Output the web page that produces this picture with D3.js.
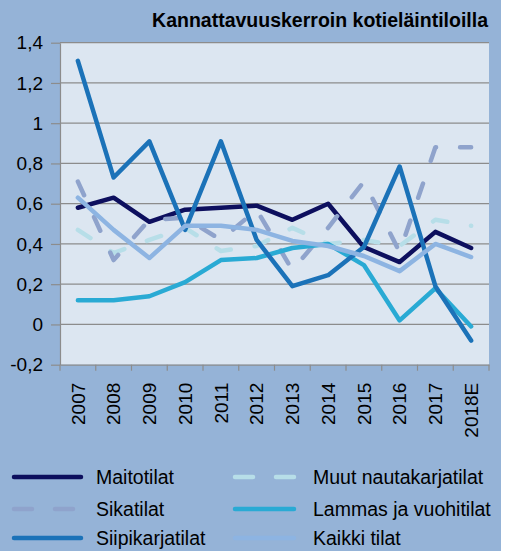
<!DOCTYPE html>
<html>
<head>
<meta charset="utf-8">
<script src="https://cdn.jsdelivr.net/npm/d3@7"></script>
<style>
  body { margin: 0; background: #ffffff; }
  svg { display: block; font-family: "Liberation Sans", Arial, sans-serif; }
</style>
</head>
<body>
<div id="chart"></div>
<script>
const width = 505;
const height = 551;
const margin = { top: 42.7, right: 16, bottom: 186.3, left: 60 };

// data
const years = ['2007', '2008', '2009', '2010', '2011', '2012', '2013', '2014', '2015', '2016', '2017', '2018E'];
const maitotilat = [0.58, 0.63, 0.51, 0.57, 0.58, 0.59, 0.52, 0.60, 0.385, 0.31, 0.46, 0.38];
const muutNautakarjatilat = [0.47, 0.355, 0.42, 0.48, 0.365, 0.39, 0.48, 0.40, 0.42, 0.39, 0.52, 0.49];
const sikatilat = [0.71, 0.32, 0.52, 0.53, 0.42, 0.57, 0.27, 0.48, 0.71, 0.36, 0.88, 0.88];
const lammasJaVuohitilat = [0.12, 0.12, 0.14, 0.21, 0.32, 0.33, 0.38, 0.40, 0.295, 0.02, 0.18, -0.01];
const siipikarjatilat = [1.31, 0.73, 0.91, 0.47, 0.91, 0.42, 0.19, 0.245, 0.385, 0.785, 0.19, -0.08];
const kaikkiTilat = [0.63, 0.47, 0.33, 0.49, 0.49, 0.47, 0.415, 0.39, 0.34, 0.265, 0.40, 0.335];
const yTicks = [-0.2, 0, 0.2, 0.4, 0.6, 0.8, 1, 1.2, 1.4];
const yTickLabels = ['-0,2', '0', '0,2', '0,4', '0,6', '0,8', '1', '1,2', '1,4'];

const series = [
  { name: 'Maitotilat', values: maitotilat, color: '#0d0f5e', dash: null },
  { name: 'Muut nautakarjatilat', values: muutNautakarjatilat, color: '#b7dee8', dash: '15,24' },
  { name: 'Sikatilat', values: sikatilat, color: '#8fa3cc', dash: '15,24' },
  { name: 'Lammas ja vuohitilat', values: lammasJaVuohitilat, color: '#29aad4', dash: null },
  { name: 'Siipikarjatilat', values: siipikarjatilat, color: '#1b72b8', dash: null },
  { name: 'Kaikki tilat', values: kaikkiTilat, color: '#8db4e2', dash: null }
];

const svg = d3.select('#chart')
  .append('svg')
  .attr('width', width)
  .attr('height', height);

// outer background
svg.append('rect')
  .attr('width', 501)
  .attr('height', height)
  .attr('fill', '#95b3d7');

const x = d3.scaleBand()
  .domain(years)
  .range([margin.left, width - margin.right])
  .padding(0);

const y = d3.scaleLinear()
  .domain([-0.2, 1.4])
  .range([height - margin.bottom, margin.top]);

// plot area
svg.append('rect')
  .attr('x', margin.left)
  .attr('y', y(1.4))
  .attr('width', x.range()[1] - margin.left)
  .attr('height', y(-0.2) - y(1.4))
  .attr('fill', '#dce6f1');

// gridlines
svg.append('g')
  .selectAll('line')
  .data(yTicks.filter(d => d > -0.2))
  .join('line')
    .attr('x1', margin.left)
    .attr('x2', x.range()[1])
    .attr('y1', d => y(d))
    .attr('y2', d => y(d))
    .attr('stroke', '#8c8c8c')
    .attr('stroke-width', 1.2);

function yAxis(g) {
  g.attr('transform', `translate(${margin.left}, 0)`)
    .call(d3.axisLeft(y).tickValues(yTicks).tickSize(9).tickSizeOuter(0).tickPadding(8)
      .tickFormat((d, i) => yTickLabels[i]))
    .attr('font-size', '19px')
    .attr('font-family', '"Liberation Sans", Arial, sans-serif');
  g.select('.domain').attr('stroke', '#8c8c8c').attr('stroke-width', 1.2);
  g.selectAll('.tick line').attr('stroke', '#8c8c8c').attr('stroke-width', 1.2);
  g.selectAll('.tick text').attr('fill', '#000');
}

function xAxis(g) {
  g.attr('transform', `translate(0, ${y(-0.2)})`)
    .call(d3.axisBottom(x).tickSize(0).tickSizeOuter(0))
    .attr('font-size', '19px')
    .attr('font-family', '"Liberation Sans", Arial, sans-serif');
  g.select('.domain').attr('stroke', '#8c8c8c').attr('stroke-width', 1.2);
  g.selectAll('.tick text')
    .attr('fill', '#000')
    .attr('transform', 'rotate(-90)')
    .attr('text-anchor', 'end')
    .attr('x', -18)
    .attr('y', 0)
    .attr('dy', '0.35em');
  // tick marks at category boundaries
  g.selectAll('.bound')
    .data(years.map(d => x(d)).concat([x.range()[1]]))
    .join('line')
      .attr('class', 'bound')
      .attr('x1', d => d)
      .attr('x2', d => d)
      .attr('y1', 0)
      .attr('y2', 6)
      .attr('stroke', '#8c8c8c')
      .attr('stroke-width', 1.2);
}

svg.append('g').call(xAxis);
svg.append('g').call(yAxis);

const line = d3.line()
  .x((d, i) => x(years[i]) + x.bandwidth() / 2)
  .y(d => y(d));

svg.append('g')
  .selectAll('path')
  .data(series)
  .join('path')
    .attr('d', d => line(d.values))
    .attr('fill', 'none')
    .attr('stroke', d => d.color)
    .attr('stroke-width', 4.5)
    .attr('stroke-linejoin', 'round')
    .attr('stroke-linecap', 'round')
    .attr('stroke-dasharray', d => d.dash);

// title
svg.append('text')
  .attr('x', 488)
  .attr('y', 27)
  .attr('text-anchor', 'end')
  .attr('font-size', '19.5px')
  .attr('font-weight', 'bold')
  .attr('fill', '#000')
  .text('Kannattavuuskerroin kotieläintiloilla');

// legend
const legendCols = [
  { x1: 12, x2: 83, tx: 96 },
  { x1: 233, x2: 296, tx: 313 }
];
const legendRows = [477, 509, 538];

const legend = svg.append('g')
  .selectAll('g')
  .data(series)
  .join('g')
    .attr('transform', (d, i) => `translate(0, ${legendRows[Math.floor(i / 2)]})`);

legend.append('line')
  .attr('x1', (d, i) => legendCols[i % 2].x1 + 2)
  .attr('x2', (d, i) => legendCols[i % 2].x2 - 2)
  .attr('stroke', d => d.color)
  .attr('stroke-width', 4.5)
  .attr('stroke-linecap', 'round')
  .attr('stroke-dasharray', d => d.dash ? '18,23' : null);

legend.append('text')
  .attr('x', (d, i) => legendCols[i % 2].tx)
  .attr('dy', '0.35em')
  .attr('font-size', '19.5px')
  .attr('fill', '#000')
  .text(d => d.name);
</script>
</body>
</html>
